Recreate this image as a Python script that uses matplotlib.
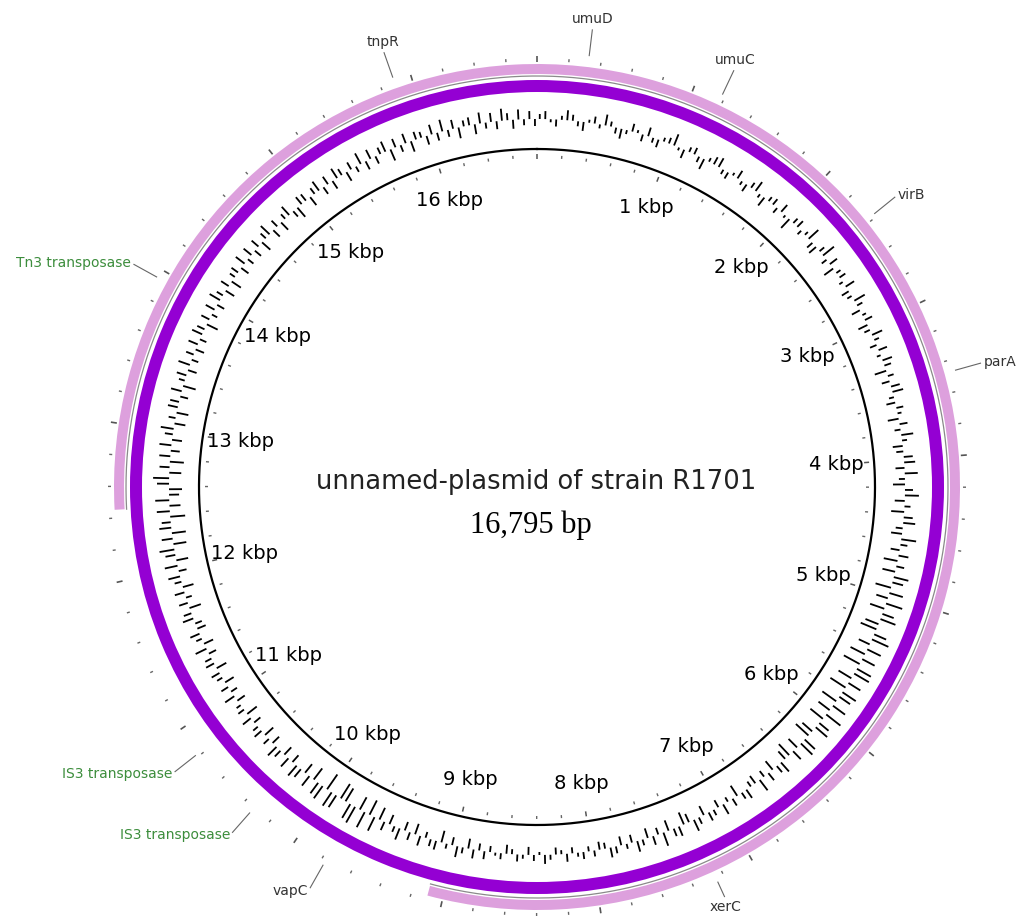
import numpy as np
import matplotlib
matplotlib.use('Agg')
import matplotlib.pyplot as plt

# Plasmid length and annotations
seq_len = 16795
kbp_marks = list(range(1, 17))

feature_names = ['umuD', 'umuC', 'virB', 'parA', 'xerC', 'vapC',
                 'IS3 transposase', 'IS3 transposase', 'Tn3 transposase', 'tnpR']
feature_pos = [322, 1180, 2379, 3471, 7250, 9774, 10329, 10815, 13945, 15890]
feature_colors = ['#333333', '#333333', '#333333', '#333333', '#333333', '#333333',
                  '#3c8d3c', '#3c8d3c', '#3c8d3c', '#333333']

# outer light arc (wraps over the origin)
arc_start = 12452
arc_end = 9098

# GC content deviation, one value per 40 bp window
gc_step = 40
gc_values = [
    5, 8, -3, -7, 4, 10, 6, -5, -9, 3, 7, -4, 11, 5, -6, -10, -4, 8, 3, -7,
    9, -5, -8, 4, 6, 12, -3, -9, 5, 7, -6, -11, 4, 8, 10, -5, -7, 3, 9, -4,
    -8, 6, 11, -4, -10, 5, 7, -6, 9, -3, -12, 6, 8, -5, 4, 13, -7, -9, 6, 14,
    -6, 9, -11, 5, 7, -4, 10, -8, -5, 12, 6, -9, 4, 8, -10, -6, 11, 5, -7, 9,
    -4, 10, 7, -12, 6, -8, 9, 11, -5, -9, 7, 4, -11, 8, -6, 12, 5, -10, -7, 9,
    11, -9, 13, -6, -12, 8, 14, -10, 6, -13, 9, 12, -7, -11, 15, 7, -9, 10, -14, 8,
    -13, 15, 11, -16, 14, -12, 17, -15, 12, 16, -14, -17, 13, 18, -12, 15, -16, 14, -18, 16,
    17, -15, 14, -18, 16, 13, -17, 15, -14, 18, -16, 12, 15, -13, -17, 14, 16, -12, 11, -15,
    -10, 12, 8, -11, 9, -7, 13, -9, -6, 10, 7, -12, 8, -5, 11, -8, 6, 9, -10, 7,
    12, -9, -13, 10, 8, -11, 14, -7, 9, -10, 6, 11, -8, 5, -9, 7, 10, -6, -8, 6,
    -5, 7, 4, -6, 8, -4, -7, 5, 9, -3, 6, -8, 4, 7, -5, -9, 6, 3, -6, 8,
    -7, 9, -10, 6, 11, -8, 5, -12, 9, 7, -6, 10, -11, 8, -9, 12, 6, -10, 9, -13,
    15, -16, 17, -14, 18, 16, -15, -17, 14, 16, -18, 15, 13, -14, 12, -11, 10, 13, -9, 11,
    -10, 8, 12, -9, 7, -11, 9, 6, -8, 10, -12, 7, 5, -9, 11, -7, 8, -10, 6, 9,
    -11, 9, 7, -8, 12, -10, 6, 10, -9, -7, 11, 8, -12, 9, -6, 10, -11, 7, 12, -8,
    13, -12, 10, 15, -13, 11, -14, 12, 9, -15, 13, -11, 14, -10, -13, 12, 16, -12, 10, -14,
    11, -9, 12, -10, 8, 13, -11, 7, -12, 10, 9, -8, 11, -13, 6, 10, -9, 12, -7, 8,
    -9, 10, -7, 11, 8, -12, 9, -6, 10, -8, 12, 7, -10, 9, -11, 6, 8, -9, 11, -7,
    10, -8, 9, -11, 7, 12, -9, 8, -10, 6, 11, -7, -12, 9, 8, -10, 7, 11, -8, 9,
    -9, 11, 7, -10, 8, -6, 12, -9, 10, -8, 7, 11, -12, 9, -7, 10, -11, 8, 6, -9,
    10, -8, 12, -7, 9, -11, 6, 8, -10, 11, -6, 9, -8, 12, 7, -9, 10, -6, 8, -7,
]


def to_theta(bp):
    return 2 * np.pi * np.asarray(bp, dtype=float) / seq_len


W, H = 1025, 916
R = 500
cx, cy = 537, 487

fig = plt.figure(figsize=(W / 100, H / 100), dpi=100)
ax = fig.add_axes([(cx - R) / W, (H - cy - R) / H, 2 * R / W, 2 * R / H], projection='polar')
ax.set_theta_zero_location('N')
ax.set_theta_direction(-1)
ax.set_ylim(0, R)
ax.set_axis_off()

# backbone circle
t = np.linspace(0, 2 * np.pi, 720)
ax.plot(t, np.full_like(t, 338), color='black', lw=1.6)

# ticks every 200 bp inside and outside
tick_bp = np.arange(0, seq_len, 200)
major = tick_bp % 1000 == 0
ax.vlines(to_theta(tick_bp[~major]), 329, 332, color='#666666', lw=1.0)
ax.vlines(to_theta(tick_bp[major]), 328, 333, color='#555555', lw=1.1)
ax.vlines(to_theta(tick_bp[~major]), 426, 429, color='#666666', lw=1.0, clip_on=False)
ax.vlines(to_theta(tick_bp[major]), 425, 431, color='#555555', lw=1.2, clip_on=False)

# GC content track
gc_pos = np.arange(len(gc_values)) * gc_step + gc_step / 2
gc = np.array(gc_values, dtype=float)
ax.vlines(to_theta(gc_pos), 368, 368 + gc, color='black', lw=1.3)

# dark purple ring
ax.bar(0, 12, width=2 * np.pi, bottom=395, color='darkviolet', edgecolor='none')

# outer light arc
span = (arc_end + seq_len - arc_start)
ax.bar(to_theta(arc_start), 10, width=to_theta(span), bottom=413, align='edge',
       color='plum', edgecolor='none')
ta = to_theta(np.linspace(arc_start, arc_start + span, 400))
ax.plot(ta, np.full_like(ta, 411), color='#8a8a8a', lw=0.9)

# kbp labels
for k in kbp_marks:
    ax.text(to_theta(k * 1000), 300, f'{k} kbp', ha='center', va='center',
            fontsize=14, color='black', family='DejaVu Sans')

# feature labels
for name, pos, col in zip(feature_names, feature_pos, feature_colors):
    th = float(to_theta(pos))
    s, c = np.sin(th), np.cos(th)
    r_end = 461
    if s > 0.45:
        ha, va = 'left', 'center'
    elif s < -0.45:
        ha, va = 'right', 'center'
    else:
        ha = 'center'
        va = 'bottom' if c > 0 else 'top'
        if c < 0:
            r_end = 451
    ax.vlines(th, 434, r_end, color='#666666', lw=0.8, clip_on=False)
    ax.text(th, r_end + 3, name, ha=ha, va=va, fontsize=10, color=col, family='DejaVu Sans')

# centre title
fig.text(536.5 / W, 1 - 482 / H, 'unnamed-plasmid of strain R1701', ha='center', va='center',
         fontsize=18.5, color='#222222', family='DejaVu Sans')
fig.text(530.5 / W, 1 - 525 / H, '16,795 bp', ha='center', va='center',
         fontsize=22, color='black', family='Liberation Serif')

fig.savefig('out.png', dpi=100)
